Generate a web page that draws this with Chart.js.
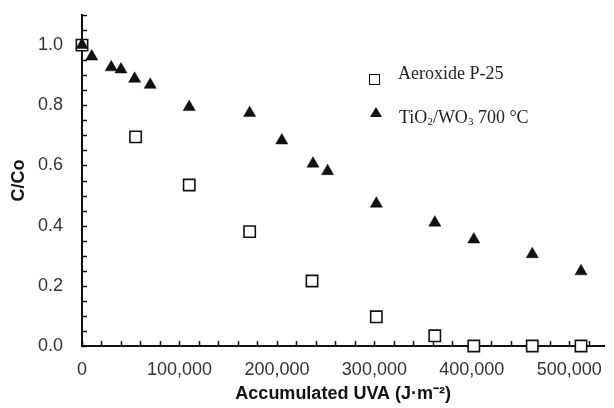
<!DOCTYPE html>
<html>
<head>
<meta charset="utf-8">
<script src="https://cdn.jsdelivr.net/npm/chart.js@4/dist/chart.umd.min.js"></script>
<style>
  html, body { margin: 0; padding: 0; background: #fff; }
  #wrap { position: relative; width: 614px; height: 408px; }
  canvas { display: block; }
  .leg { position: absolute; font-family: "Liberation Serif", serif; font-size: 18px; color: #222; white-space: nowrap; line-height: 1; }
  .leg sub { font-size: 11px; vertical-align: -2px; }
  .sq { position: absolute; width: 9px; height: 9px; border: 1.6px solid #111; box-sizing: content-box; }
  .tri { position: absolute; width: 0; height: 0; border-left: 6px solid transparent; border-right: 6px solid transparent; border-bottom: 10px solid #111; }
</style>
</head>
<body>
<div id="wrap">
  <canvas id="c" width="614" height="408"></canvas>
  <div class="sq" style="left:369px; top:74px;"></div>
  <div class="leg" style="left:398px; top:64px;">Aeroxide P-25</div>
  <div class="tri" style="left:370px; top:107px;"></div>
  <div class="leg" style="left:399px; top:108px;">TiO<sub>2</sub>/WO<sub>3</sub> 700 °C</div>
</div>
<script>
const p25X = [0, 55000, 110000, 172000, 236000, 302000, 362000, 402000, 462000, 512000];
const p25Y = [1.0, 0.695, 0.535, 0.38, 0.216, 0.097, 0.034, 0.0, 0.0, 0.0];
const tiwX = [0, 10000, 30000, 40000, 54000, 70000, 110000, 172000, 205000, 237000, 252000, 302000, 362000, 402000, 462000, 512000];
const tiwY = [1.0, 0.962, 0.926, 0.919, 0.888, 0.868, 0.794, 0.774, 0.683, 0.606, 0.581, 0.473, 0.41, 0.354, 0.305, 0.248];
const xTicks = [0, 100000, 200000, 300000, 400000, 500000];
const yTicks = [0, 0.2, 0.4, 0.6, 0.8, 1.0];
const xMax = 536000;

const pts = (xs, ys) => xs.map((x, i) => ({ x: x, y: ys[i] }));
const zeroPad = (s) => { s.paddingTop = 0; s.paddingBottom = 0; s.paddingLeft = 0; s.paddingRight = 0; };

const minorTicks = {
  id: 'minorTicks',
  beforeDatasetsDraw(chart) {
    const { ctx, chartArea, scales } = chart;
    const xs = scales.x, ys = scales.y;
    ctx.save();
    ctx.strokeStyle = '#111';
    ctx.lineWidth = 1.5;
    ctx.beginPath();
    for (let i = 0; i <= 22; i++) {
      const py = Math.round(ys.getPixelForValue(i * 0.05)) + 0.5;
      ctx.moveTo(chartArea.left, py);
      ctx.lineTo(chartArea.left + 5, py);
    }
    for (let i = 0; i * 20000 <= xMax; i++) {
      const px = Math.round(xs.getPixelForValue(i * 20000)) + 0.5;
      ctx.moveTo(px, chartArea.bottom);
      ctx.lineTo(px, chartArea.bottom - 5);
    }
    ctx.stroke();
    ctx.restore();
  }
};

new Chart(document.getElementById('c'), {
  type: 'scatter',
  data: {
    datasets: [
      {
        label: 'TiO2/WO3 700 °C',
        data: pts(tiwX, tiwY),
        pointStyle: 'triangle',
        pointRadius: 7,
        pointBackgroundColor: '#111',
        pointBorderColor: '#111',
        pointBorderWidth: 0.5,
        clip: false
      },
      {
        label: 'Aeroxide P-25',
        data: pts(p25X, p25Y),
        pointStyle: 'rect',
        pointRadius: 8,
        pointBackgroundColor: '#fff',
        pointBorderColor: '#111',
        pointBorderWidth: 1.6,
        clip: false
      }
    ]
  },
  options: {
    responsive: false,
    animation: false,
    layout: { padding: { top: 15, right: 0, left: 0, bottom: 0 } },
    plugins: { legend: { display: false }, tooltip: { enabled: false } },
    scales: {
      x: {
        type: 'linear',
        min: 0,
        max: xMax,
        grid: { display: false, drawTicks: false },
        border: { display: true, color: '#111', width: 2 },
        afterBuildTicks: (s) => { s.ticks = xTicks.map(v => ({ value: v })); },
        afterFit: (s) => { s.height = 62; zeroPad(s); },
        ticks: {
          autoSkip: false,
          padding: 13,
          color: '#333',
          font: { family: 'Liberation Sans', size: 18 },
          maxRotation: 0,
          callback: (v) => Math.round(v).toLocaleString('en-US')
        },
        title: {
          display: true,
          text: 'Accumulated UVA (J·m⁻²)',
          color: '#111',
          font: { family: 'Liberation Sans', size: 18, weight: 'bold' },
          padding: { top: 0, bottom: 3 }
        }
      },
      y: {
        type: 'linear',
        min: 0,
        max: 1.1,
        grid: { display: false, drawTicks: false },
        border: { display: true, color: '#111', width: 2 },
        afterBuildTicks: (s) => { s.ticks = yTicks.map(v => ({ value: v })); },
        afterFit: (s) => { s.width = 82; zeroPad(s); },
        ticks: {
          autoSkip: false,
          padding: 19,
          color: '#333',
          font: { family: 'Liberation Sans', size: 18 },
          callback: (v) => v.toFixed(1)
        },
        title: {
          display: true,
          text: 'C/Co',
          color: '#111',
          font: { family: 'Liberation Sans', size: 18, weight: 'bold' },
          padding: { top: 8, bottom: 0 }
        }
      }
    }
  },
  plugins: [minorTicks]
});
</script>
</body>
</html>
